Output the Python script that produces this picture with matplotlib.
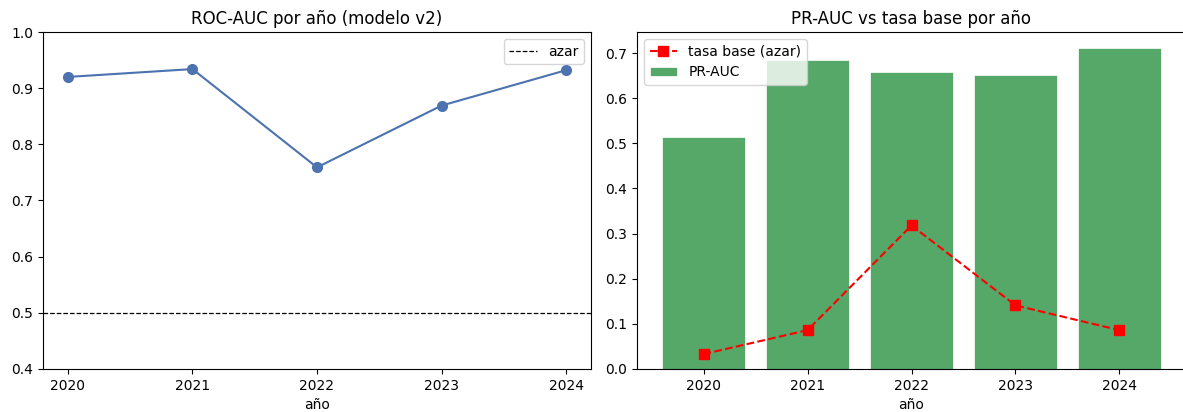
import matplotlib
matplotlib.use("Agg")
import matplotlib.pyplot as plt
import numpy as np

# métricas por año del modelo v2
years = [2020, 2021, 2022, 2023, 2024]
roc_auc = [0.920, 0.934, 0.759, 0.869, 0.932]
pr_auc = [0.514, 0.685, 0.659, 0.651, 0.711]
base_rate = [0.033, 0.086, 0.318, 0.141, 0.086]
random_roc = 0.5

blue = "#4C72B0"
green = "#55A868"

W, H = 1183, 412
fig = plt.figure(figsize=(W / 100, H / 100), dpi=100)

ax1 = fig.add_axes([43 / W, 43 / H, 548 / W, 337 / H])
ax2 = fig.add_axes([637 / W, 43 / H, 549 / W, 337 / H])

# ROC-AUC
ax1.plot(years, roc_auc, marker="o", color=blue, linewidth=1.5, markersize=7)
ax1.axhline(random_roc, color="black", linestyle="--", linewidth=0.9, label="azar")
ax1.set_ylim(0.4, 1.0)
ax1.set_xticks(years)
ax1.set_xlabel("año")
ax1.set_title("ROC-AUC por año (modelo v2)")
ax1.legend(loc="upper right")

# PR-AUC frente a la tasa base
ax2.bar(years, pr_auc, width=0.8, color=green, edgecolor="white", linewidth=0.5,
        label="PR-AUC")
ax2.plot(years, base_rate, "r--", marker="s", markersize=7, label="tasa base (azar)")
ax2.set_xticks(years)
ax2.set_xlabel("año")
ax2.set_title("PR-AUC vs tasa base por año")
ax2.legend(loc="upper left")

fig.savefig("out.png", dpi=100)
